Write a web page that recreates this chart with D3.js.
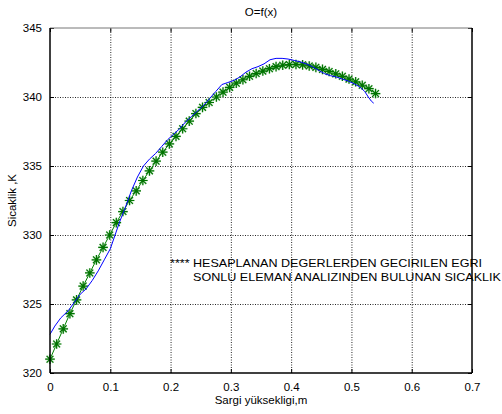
<!DOCTYPE html>
<html>
<head>
<meta charset="utf-8">
<script src="https://cdn.jsdelivr.net/npm/d3@7/dist/d3.min.js"></script>
<style>
html,body{margin:0;padding:0;background:#fff;}
svg{display:block;font-family:"Liberation Sans",Arial,sans-serif;}
</style>
</head>
<body>
<svg id="chart" width="502" height="414"></svg>
<script>
// ---- data ----
const xTicks = [0, 0.1, 0.2, 0.3, 0.4, 0.5, 0.6, 0.7];
const xTickLabels = ["0", "0.1", "0.2", "0.3", "0.4", "0.5", "0.6", "0.7"];
const yTicks = [320, 325, 330, 335, 340, 345];
const yTickLabels = ["320", "325", "330", "335", "340", "345"];

// green starred curve (fitted curve)
const fitX = [0.000,0.011,0.022,0.033,0.044,0.055,0.066,0.077,0.088,0.099,
              0.110,0.121,0.132,0.143,0.154,0.165,0.176,0.187,0.198,0.209,
              0.220,0.231,0.242,0.253,0.264,0.276,0.287,0.298,0.309,0.320,
              0.331,0.342,0.353,0.364,0.375,0.386,0.397,0.408,0.419,0.430,
              0.441,0.452,0.463,0.474,0.485,0.496,0.507,0.518,0.529,0.540];
const fitY = [321.0,322.1,323.2,324.3,325.3,326.3,327.25,328.2,329.1,330.0,
              330.9,331.7,332.5,333.2,333.95,334.65,335.35,336.0,336.6,337.15,
              337.7,338.25,338.8,339.25,339.6,340.0,340.35,340.7,341.0,341.25,
              341.5,341.7,341.88,342.05,342.2,342.3,342.35,342.36,342.33,342.25,
              342.15,342.0,341.85,341.68,341.5,341.3,341.1,340.85,340.6,340.25];

// blue curve (finite element analysis)
const feX = [0.000,0.008,0.018,0.030,0.040,0.050,0.060,0.070,0.080,0.090,
             0.100,0.108,0.115,0.125,0.135,0.145,0.155,0.165,0.175,0.185,
             0.195,0.205,0.215,0.225,0.235,0.245,0.255,0.265,0.275,0.285,
             0.295,0.305,0.315,0.325,0.335,0.345,0.355,0.365,0.375,0.385,
             0.395,0.405,0.415,0.425,0.435,0.445,0.455,0.465,0.475,0.485,
             0.495,0.505,0.515,0.522,0.528,0.533,0.537];
const feY = [322.8,323.4,324.0,324.5,325.1,325.7,326.1,326.7,327.4,328.2,
             329.0,330.0,330.9,332.0,333.2,334.2,335.0,335.5,335.9,336.4,
             336.9,337.3,337.7,338.2,338.6,339.0,339.4,339.9,340.4,340.9,
             341.05,341.2,341.45,341.8,342.05,342.2,342.4,342.7,342.8,342.8,
             342.75,342.65,342.55,342.4,342.2,341.95,341.7,341.55,341.45,341.3,
             341.15,340.95,340.7,340.4,340.0,339.7,339.55];

const titleText = "O=f(x)";
const xLabelText = "Sargi yüksekligi,m";
const yLabelText = "Sicaklik ,K";
const legendLines = ["**** HESAPLANAN DEGERLERDEN GECIRILEN EGRI",
                     "SONLU ELEMAN ANALIZINDEN BULUNAN SICAKLIK"];

// ---- layout ----
const svg = d3.select("#chart");
const L = 50, R = 472, T = 28, B = 373;
const x = d3.scaleLinear().domain([0, 0.7]).range([L, R]);
const y = d3.scaleLinear().domain([320, 345]).range([B, T]);

svg.append("rect").attr("width", 502).attr("height", 414).attr("fill", "#fff");

// dotted grid via axis ticks spanning the plot
const gridG = svg.append("g").attr("class", "grid");
gridG.append("g").attr("transform", `translate(0,${B})`)
  .call(d3.axisBottom(x).tickValues(xTicks.slice(1, -1)).tickFormat("").tickSize(-(B - T)))
  .call(g => g.select(".domain").remove());
gridG.append("g").attr("transform", `translate(${L},0)`)
  .call(d3.axisLeft(y).tickValues(yTicks.slice(1, -1)).tickFormat("").tickSize(-(R - L)))
  .call(g => g.select(".domain").remove());
gridG.selectAll(".tick line")
  .attr("stroke", "#000").attr("stroke-width", 1).attr("stroke-dasharray", "1,1.5")
  .attr("opacity", 0.85);

// legend-ish text (drawn before axes so the axis line crosses it)
const leg = svg.append("g").attr("font-size", 11.5).attr("fill", "#000");
leg.append("text").attr("x", 170).attr("y", 266.5).attr("textLength", 312)
  .attr("lengthAdjust", "spacingAndGlyphs").text(legendLines[0]);
leg.append("text").attr("x", 193).attr("y", 280.5).attr("textLength", 308)
  .attr("lengthAdjust", "spacingAndGlyphs").text(legendLines[1]);

// data lines
const lineFE = d3.line().x(d => x(d[0])).y(d => y(d[1]));
const feData = feX.map((v, i) => [v, feY[i]]);
const fitData = fitX.map((v, i) => [v, fitY[i]]);

svg.append("path").datum(fitData).attr("d", lineFE)
  .attr("fill", "none").attr("stroke", "#008000").attr("stroke-width", 1);

// stars
const r = 4.8, rd = 3.4;
const starPath = `M${-r},0L${r},0M0,${-r}L0,${r}M${-rd},${-rd}L${rd},${rd}M${-rd},${rd}L${rd},${-rd}`;
const stars = svg.append("g");
stars.selectAll("path.halo").data(fitData).join("path").attr("class", "halo")
  .attr("transform", d => `translate(${x(d[0])},${y(d[1])})`)
  .attr("d", starPath).attr("fill", "none").attr("stroke", "#8fd08f")
  .attr("stroke-width", 2.2).attr("opacity", 0.45);
stars.selectAll("path.core").data(fitData).join("path").attr("class", "core")
  .attr("transform", d => `translate(${x(d[0])},${y(d[1])})`)
  .attr("d", starPath).attr("fill", "none").attr("stroke", "#007300")
  .attr("stroke-width", 1.2);

svg.append("path").datum(feData).attr("d", lineFE)
  .attr("fill", "none").attr("stroke", "#0000ff").attr("stroke-width", 1);

// axes
const ax = svg.append("g");
ax.append("g").attr("transform", `translate(0,${B})`)
  .call(d3.axisBottom(x).tickValues(xTicks).tickFormat((d, i) => xTickLabels[i]).tickSize(-4).tickPadding(10))
  .call(g => g.select(".domain").remove());
ax.append("g").attr("transform", `translate(${L},0)`)
  .call(d3.axisLeft(y).tickValues(yTicks).tickFormat((d, i) => yTickLabels[i]).tickSize(-4).tickPadding(8))
  .call(g => g.select(".domain").remove());
ax.append("g").attr("transform", `translate(0,${T})`)
  .call(d3.axisTop(x).tickValues(xTicks).tickFormat("").tickSize(-4))
  .call(g => g.select(".domain").remove());
ax.append("g").attr("transform", `translate(${R},0)`)
  .call(d3.axisRight(y).tickValues(yTicks).tickFormat("").tickSize(-4))
  .call(g => g.select(".domain").remove());
ax.selectAll("text").attr("font-size", 11.5).attr("fill", "#000")
  .attr("font-family", "Liberation Sans, Arial, sans-serif");
ax.selectAll(".tick line").attr("stroke", "#000");

// box
svg.append("line").attr("x1", L).attr("x2", R).attr("y1", T).attr("y2", T).attr("stroke", "#777").attr("stroke-width", 1);
svg.append("line").attr("x1", R).attr("x2", R).attr("y1", T).attr("y2", B).attr("stroke", "#000").attr("stroke-width", 1.5);
svg.append("line").attr("x1", L).attr("x2", L).attr("y1", T).attr("y2", B).attr("stroke", "#000").attr("stroke-width", 1.5);
svg.append("line").attr("x1", L).attr("x2", R).attr("y1", B).attr("y2", B).attr("stroke", "#000").attr("stroke-width", 1.5);

// labels
svg.append("text").attr("x", 261).attr("y", 16).attr("text-anchor", "middle")
  .attr("font-size", 11.5).text(titleText);
svg.append("text").attr("x", 261).attr("y", 404).attr("text-anchor", "middle")
  .attr("font-size", 11.5).text(xLabelText);
svg.append("text").attr("transform", `translate(16,${(T + B) / 2}) rotate(-90)`)
  .attr("text-anchor", "middle").attr("font-size", 11.5).text(yLabelText);
</script>
</body>
</html>
